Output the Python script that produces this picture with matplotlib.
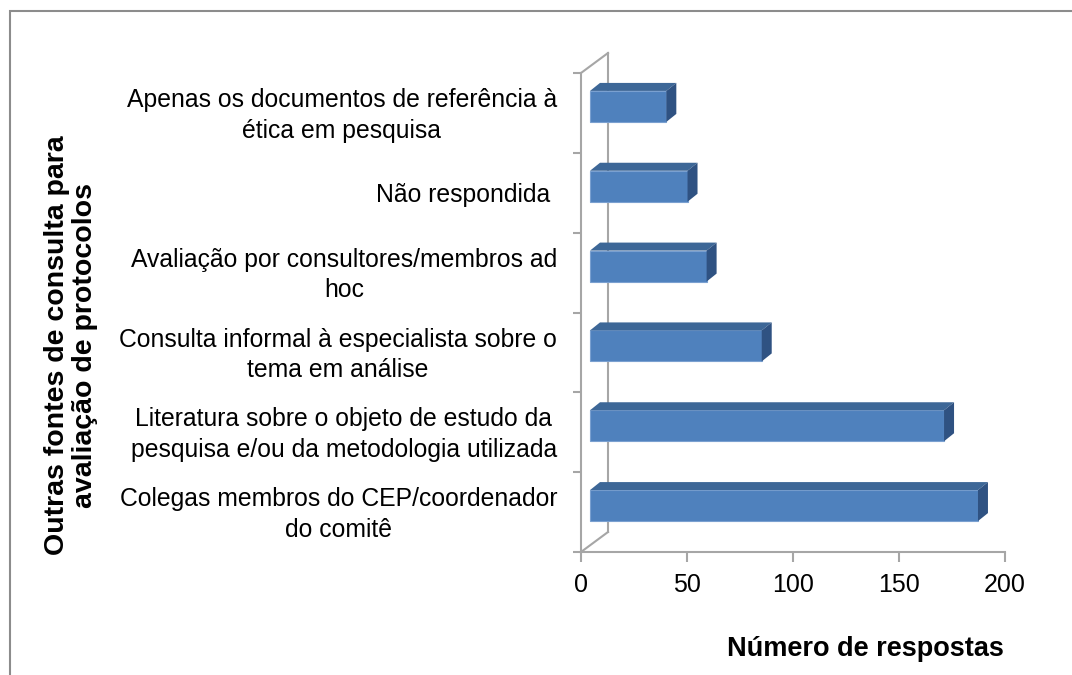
import matplotlib.pyplot as plt
from matplotlib.patches import Polygon, Rectangle
import numpy as np

plt.rcParams['font.family'] = ['Liberation Sans', 'DejaVu Sans']

categorias = [
    "Colegas membros do CEP/coordenador\ndo comitê",
    "Literatura sobre o objeto de estudo da\npesquisa e/ou da metodologia utilizada",
    "Consulta informal à especialista sobre o\ntema em análise",
    "Avaliação por consultores/membros ad\nhoc",
    "Não respondida ",
    "Apenas os documentos de referência à\nética em pesquisa",
]
respostas = [183, 167, 81, 55, 46, 36]
x_ticks = [0, 50, 100, 150, 200]

W, H = 1072, 675
fig = plt.figure(figsize=(W / 100, H / 100), dpi=100)

# moldura do gráfico (só esquerda e topo aparecem)
fig.patches.append(Rectangle((10 / W, -0.1), 1.2, 1 - 11 / H + 0.1, transform=fig.transFigure,
                             fill=False, edgecolor='#8c8c8c', linewidth=1.5))

# plano frontal: x 0..200 em px 581..1005 ; y -0.5..5.5 em px 552..73
ax = fig.add_axes([581 / W, 1 - 552 / H, (1005 - 581) / W, (552 - 73) / H])
ax.set_xlim(0, 200)
ax.set_ylim(-0.5, 5.5)
for s in ax.spines.values():
    s.set_visible(False)

px_x = 200 / (1005 - 581)
px_y = 6 / (552 - 73)

# profundidade da parede
ddx = 27 * px_x
ddy = 20 * px_y
gray = '#a6a6a6'
ax.plot([0, 0], [-0.5, 5.5], color=gray, lw=1.5, clip_on=False)
ax.plot([ddx, ddx], [-0.5 + ddy, 5.5 + ddy], color=gray, lw=1.5, clip_on=False)
ax.plot([0, ddx], [5.5, 5.5 + ddy], color=gray, lw=1.5, clip_on=False)
ax.plot([0, ddx], [-0.5, -0.5 + ddy], color=gray, lw=1.5, clip_on=False)
ax.plot([0, 200], [-0.5, -0.5], color=gray, lw=1.5, clip_on=False)

# barras 3D
y = np.arange(len(respostas))
off_x = 9 * px_x
off_y = 6.5 * px_y
h = 31 * px_y
bdx = 10 * px_x
bdy = 8 * px_y
ax.barh(y + off_y, respostas, height=h, left=off_x, color='#4f81bd',
        edgecolor='#7aa0d0', linewidth=0.8, zorder=3)
for yi, v in zip(y, respostas):
    yt = yi + off_y + h / 2
    yb = yi + off_y - h / 2
    x0, x1 = off_x, off_x + v
    ax.add_patch(Polygon([[x0, yt], [x1, yt], [x1 + bdx, yt + bdy], [x0 + bdx, yt + bdy]],
                         closed=True, facecolor='#3d6797', edgecolor='none', zorder=4))
    ax.add_patch(Polygon([[x1, yb], [x1, yt], [x1 + bdx, yt + bdy], [x1 + bdx, yb + bdy]],
                         closed=True, facecolor='#2f5282', edgecolor='none', zorder=4))

# ticks
ax.set_xticks(x_ticks)
ax.set_xticklabels([str(t) for t in x_ticks], fontsize=18)
ax.set_yticks(np.arange(-0.5, 6.0, 1.0))
ax.set_yticklabels([])
ax.tick_params(axis='x', length=7, width=1.5, color=gray, pad=8, direction='out')
ax.tick_params(axis='y', length=6, width=1.5, color=gray, direction='out')

for yi, lab in zip(y, categorias):
    ax.text(-24 * px_x, yi - 0.03, lab, ha='right', va='center', fontsize=17.8,
            multialignment='center', linespacing=1.34)

ax.set_xlabel("Número de respostas", fontsize=19.5, fontweight='bold', labelpad=28, x=0.672)
fig.text(71 / W, 1 - 345 / H, "Outras fontes de consulta para\navaliação de protocolos",
         rotation=90, ha='center', va='center', fontsize=20.5, fontweight='bold',
         multialignment='center', linespacing=1.1)

fig.savefig('out.png', dpi=100)
